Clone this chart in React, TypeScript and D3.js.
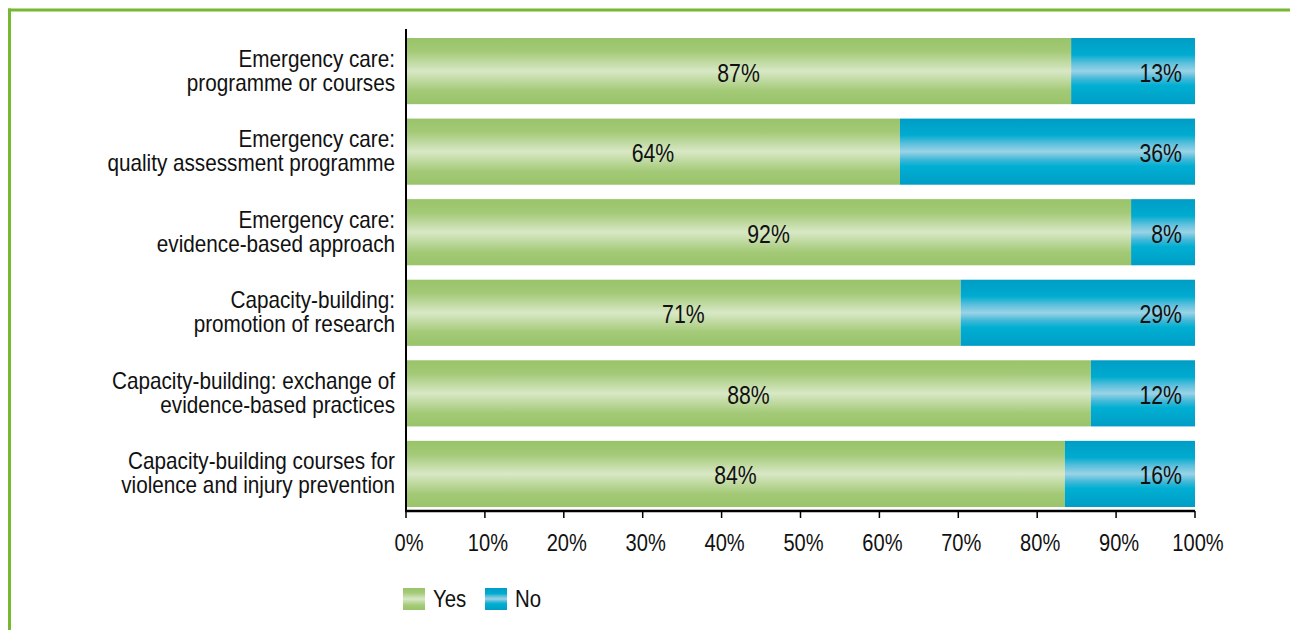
import React from "react";
import * as d3 from "d3";

const categories: string[][] = [
  ["Emergency care:", "programme or courses"],
  ["Emergency care:", "quality assessment programme"],
  ["Emergency care:", "evidence-based approach"],
  ["Capacity-building:", "promotion of research"],
  ["Capacity-building: exchange of", "evidence-based practices"],
  ["Capacity-building courses for", "violence and injury prevention"],
];
// bar split positions as drawn in the picture (% of Yes)
const yesValues = [84.3, 62.6, 91.9, 70.3, 86.8, 83.5];
const yesLabels = ["87%", "64%", "92%", "71%", "88%", "84%"];
const noLabels = ["13%", "36%", "8%", "29%", "12%", "16%"];
const ticks = [0, 10, 20, 30, 40, 50, 60, 70, 80, 90, 100];
const seriesNames = ["Yes", "No"];

const FONT = "'Liberation Sans', Arial, sans-serif";

function CText({ x, y, anchor = "start", size, sx, children }: { x: number; y: number; anchor?: string; size: number; sx: number; children: React.ReactNode }) {
  return (
    <text transform={`translate(${x},${y}) scale(${sx},1)`} textAnchor={anchor as any} fontSize={size} fill="#111">
      {children}
    </text>
  );
}

export default function App() {
  const W = 1290, H = 630;
  const x = d3.scaleLinear().domain([0, 100]).range([406, 1195]);
  const idx = categories.map((_, i) => String(i));
  const y = d3.scaleBand<string>().domain(idx).range([30.8, 514.2]).paddingInner(0.179).paddingOuter(0.0895);
  const bw = y.bandwidth();
  const axisY = 511;

  return (
    <svg width={W} height={H} style={{ position: "absolute", left: 0, top: 0, background: "#fff" }} fontFamily={FONT}>
      <defs>
        <linearGradient id="gYes" x1="0" y1="0" x2="0" y2="1">
          <stop offset="0" stopColor="#99c46a" />
          <stop offset="0.2" stopColor="#a3c976" />
          <stop offset="0.5" stopColor="#d8e8c5" />
          <stop offset="0.8" stopColor="#a3c976" />
          <stop offset="1" stopColor="#99c46a" />
        </linearGradient>
        <linearGradient id="gNo" x1="0" y1="0" x2="0" y2="1">
          <stop offset="0" stopColor="#009dc5" />
          <stop offset="0.25" stopColor="#00abd0" />
          <stop offset="0.38" stopColor="#5cc0dc" />
          <stop offset="0.5" stopColor="#9ad3e6" />
          <stop offset="0.62" stopColor="#40b8d8" />
          <stop offset="0.72" stopColor="#00afd3" />
          <stop offset="1" stopColor="#009dc5" />
        </linearGradient>
      </defs>
      {/* frame */}
      <line x1={8} x2={1290} y1={10} y2={10} stroke="#77b833" strokeWidth={3} />
      <line x1={9.5} x2={9.5} y1={8.5} y2={630} stroke="#77b833" strokeWidth={3} />

      {categories.map((lines, i) => {
        const y0 = y(String(i))!;
        const cy = y0 + bw / 2;
        const xs = x(yesValues[i]);
        return (
          <g key={i}>
            <rect x={x(0)} y={y0} width={xs - x(0)} height={bw} fill="url(#gYes)" />
            <rect x={xs} y={y0} width={x(100) - xs} height={bw} fill="url(#gNo)" />
            <CText x={(x(0) + xs) / 2} y={cy + 10.5} anchor="middle" size={25} sx={0.85}>{yesLabels[i]}</CText>
            <CText x={1182} y={cy + 10.5} anchor="end" size={25} sx={0.85}>{noLabels[i]}</CText>
            {lines.map((l, j) => (
              <CText key={j} x={395} y={cy - 4.5 + j * 24} anchor="end" size={23} sx={0.9}>{l}</CText>
            ))}
          </g>
        );
      })}

      {/* axes */}
      <line x1={406} x2={406} y1={29} y2={axisY} stroke="#000" strokeWidth={2} />
      <line x1={405} x2={1195} y1={axisY} y2={axisY} stroke="#000" strokeWidth={2.5} />
      {ticks.map((t) => (
        <g key={t}>
          <line x1={x(t)} x2={x(t)} y1={axisY} y2={axisY + 7} stroke="#000" strokeWidth={1.5} />
          <CText x={x(t) + 3} y={551} anchor="middle" size={24.5} sx={0.82}>{t}%</CText>
        </g>
      ))}

      {/* legend */}
      <rect x={403} y={588} width={22} height={22} fill="url(#gYes)" />
      <CText x={433} y={607} size={24} sx={0.85}>{seriesNames[0]}</CText>
      <rect x={485} y={588} width={22} height={22} fill="url(#gNo)" />
      <CText x={515} y={607} size={24} sx={0.85}>{seriesNames[1]}</CText>
    </svg>
  );
}
